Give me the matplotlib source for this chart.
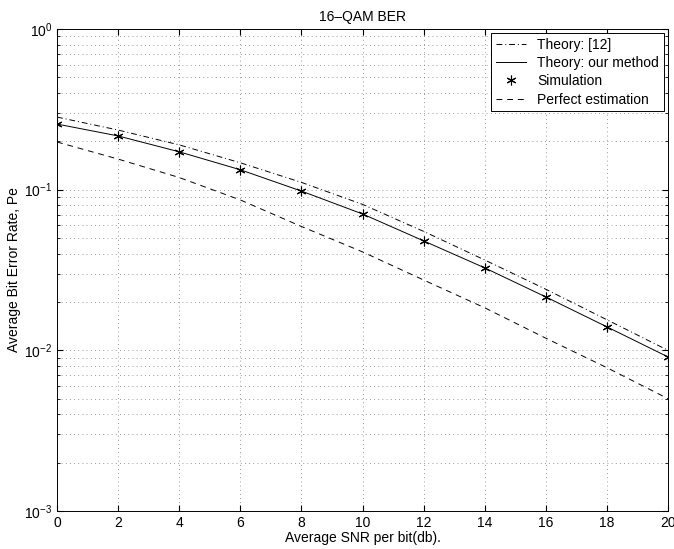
"""16-QAM BER: theory vs simulation."""

import matplotlib

matplotlib.use("Agg")
import matplotlib.pyplot as plt
from matplotlib.ticker import LogLocator, NullFormatter

plt.rcParams["font.family"] = ["Liberation Sans", "DejaVu Sans"]

snr_db = [0, 2, 4, 6, 8, 10, 12, 14, 16, 18, 20]
ber_theory_12 = [0.283, 0.235, 0.19, 0.147, 0.111, 0.081, 0.055, 0.0365, 0.024, 0.0155, 0.0100]
ber_theory_ours = [0.256, 0.216, 0.172, 0.133, 0.098, 0.0706, 0.048, 0.0326, 0.0215, 0.014, 0.0091]
ber_simulation = [0.256, 0.216, 0.172, 0.133, 0.098, 0.0706, 0.048, 0.0326, 0.0215, 0.014, 0.0091]
ber_perfect = [0.198, 0.155, 0.119, 0.0863, 0.059, 0.041, 0.0274, 0.0184, 0.0119, 0.0078, 0.005]


def main():
    fig = plt.figure(figsize=(6.74, 5.49), dpi=100)
    ax = fig.add_axes([0.0846, 0.0692, 0.9065, 0.878])

    ax.semilogy(snr_db, ber_theory_12, color="black", linestyle="-.", linewidth=0.7,
                dashes=(6, 3, 1, 3), label="Theory: [12]")
    ax.semilogy(snr_db, ber_theory_ours, color="black", linestyle="-", linewidth=0.7,
                label="Theory: our method")
    ax.semilogy(snr_db, ber_simulation, color="black", linestyle="none",
                marker=(6, 2, 0), markersize=7, markeredgewidth=0.8, label="Simulation")
    ax.semilogy(snr_db, ber_perfect, color="black", linestyle="--", linewidth=0.7,
                dashes=(6, 5), label="Perfect estimation")

    ax.set_xlim(0, 20)
    ax.set_ylim(1e-3, 1e0)
    ax.set_xticks(range(0, 21, 2))
    ax.yaxis.set_major_locator(LogLocator(base=10, numticks=10))
    ax.yaxis.set_minor_locator(LogLocator(base=10, subs=range(2, 10), numticks=10))
    ax.yaxis.set_minor_formatter(NullFormatter())

    grid_style = dict(linestyle=(0, (1, 4)), color="#777777", linewidth=0.6)
    ax.grid(True, which="major", **grid_style)
    ax.grid(True, which="minor", axis="y", **grid_style)

    ax.tick_params(which="both", direction="in", top=True, right=True, labelsize=10)
    ax.tick_params(which="major", length=4)
    ax.tick_params(which="minor", length=2)
    for spine in ax.spines.values():
        spine.set_linewidth(0.7)

    ax.set_title("16\u2013QAM BER", fontsize=10, pad=6)
    ax.set_xlabel("Average SNR per bit(db).", fontsize=10, labelpad=1)
    ax.set_ylabel("Average Bit Error Rate, Pe", fontsize=10, labelpad=2)

    leg = ax.legend(loc="upper right", fontsize=10, fancybox=False, framealpha=1,
                    edgecolor="black", borderpad=0.35, labelspacing=0.3,
                    handlelength=2.2, borderaxespad=0.3)
    leg.get_frame().set_linewidth(0.7)

    fig.savefig("out.png", dpi=100)


if __name__ == "__main__":
    main()
